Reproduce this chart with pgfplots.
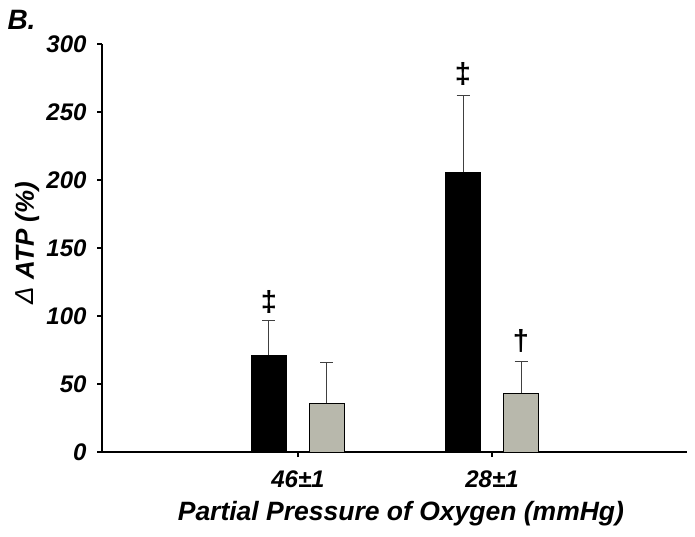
\documentclass[border=0pt]{standalone}
\usepackage{pgfplots}
\pgfplotsset{compat=1.18}
\usepackage{fontspec}
\setmainfont{Liberation Sans}
\definecolor{barfill}{RGB}{184,184,172}
\begin{document}
\begin{tikzpicture}
\useasboundingbox (0pt,0pt) rectangle (695pt,536pt);
\begin{axis}[
  at={(102pt,84pt)}, anchor=south west,
  scale only axis, width=585pt, height=408pt,
  xmin=-1.01, xmax=2.005, ymin=0, ymax=300,
  axis lines*=left,
  axis line style={line width=1.6pt, black},
  xtick={0,1}, xticklabels={46±1, 28±1},
  ytick={0,50,100,150,200,250,300},
  tick style={line width=1.3pt, black},
  major tick length=5pt,
  tick align=outside,
  /pgf/number format/assume math mode=true,
  ticklabel style={font=\fontsize{24}{24}\selectfont\bfseries\itshape},
  xticklabel style={yshift=-10pt},
  yticklabel style={xshift=-7pt},
  xlabel={Partial Pressure of Oxygen (mmHg)},
  xlabel style={font=\fontsize{26.5}{26.5}\selectfont\bfseries\itshape, at={(axis description cs:0.511,0)}, anchor=center, yshift=-62pt},
  ylabel={{\mdseries Δ} ATP (\%)},
  ylabel style={font=\fontsize{26}{26}\selectfont\bfseries\itshape, at={(axis description cs:-0.128,0.512)}, anchor=center},
  ybar, bar width=35pt,
  clip=false,
]
\addplot[draw=black, fill=black, bar shift=-29pt,
  error bars/.cd, y dir=plus, y explicit,
  error bar style={line width=1pt, black!75}, error mark options={line width=1pt, black!75, mark size=6.5pt, rotate=90}]
  coordinates {(0,71.3) +- (0,25.2) (1,205.6) +- (0,56.2)};
\addplot[draw=black, fill=barfill, line width=0.6pt, bar shift=29pt,
  error bars/.cd, y dir=plus, y explicit,
  error bar style={line width=1pt, black!75}, error mark options={line width=1pt, black!75, mark size=6.5pt, rotate=90}]
  coordinates {(0,35.8) +- (0,29.9) (1,43.2) +- (0,23.7)};
\node[font=\fontsize{29}{29}\selectfont\bfseries, xshift=-29pt] at (axis cs:0,110) {‡};
\node[font=\fontsize{29}{29}\selectfont\bfseries, xshift=-29pt] at (axis cs:1,278) {‡};
\node[font=\fontsize{29}{29}\selectfont\bfseries, xshift=29pt] at (axis cs:1,81.6) {†};
\end{axis}
\node[font=\fontsize{28}{28}\selectfont\bfseries\itshape, anchor=west] at (4pt,516pt) {B.};
\end{tikzpicture}
\end{document}
